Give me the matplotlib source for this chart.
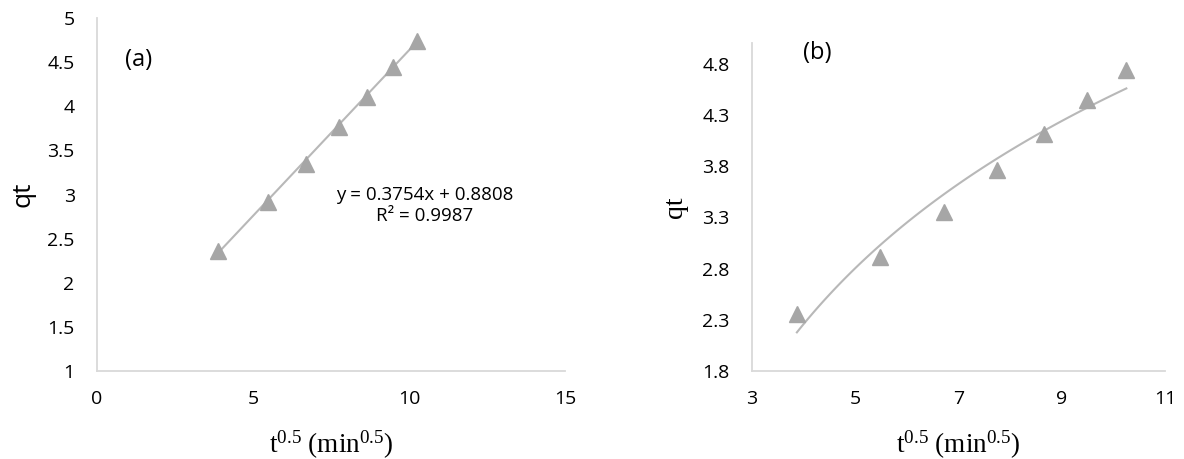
import numpy as np
import matplotlib.pyplot as plt

# contact time t = 15..105 min, plotted against t^0.5
t_sqrt = [3.87, 5.48, 6.71, 7.75, 8.66, 9.49, 10.25]
qt = [2.36, 2.91, 3.35, 3.76, 4.11, 4.44, 4.74]

slope, intercept = 0.3754, 0.8808
r2 = 0.9987

a_xticks = [0, 5, 10, 15]
a_yticks = [1, 1.5, 2, 2.5, 3, 3.5, 4, 4.5, 5]
b_xticks = [3, 5, 7, 9, 11]
b_yticks = [1.8, 2.3, 2.8, 3.3, 3.8, 4.3, 4.8]

grey = '#a6a6a6'
line_grey = '#b8b8b8'
axis_grey = '#d9d9d9'
sans = ['Open Sans', 'DejaVu Sans']
serif = ['Liberation Serif', 'DejaVu Serif']
xlab = r'$\mathregular{t^{0.5}}$ (min$\mathregular{^{0.5}}$)'

fig = plt.figure(figsize=(11.84, 4.59), dpi=100)
ax1 = fig.add_axes([0.0819, 0.1917, 0.3953, 0.769])
ax2 = fig.add_axes([0.6351, 0.1917, 0.3489, 0.7146])


def style(ax, xticks, yticks, xlim, ylim, fmt):
    ax.set_xlim(*xlim)
    ax.set_ylim(*ylim)
    ax.set_xticks(xticks)
    ax.set_yticks(yticks)
    ax.set_xticklabels([str(v) for v in xticks], family=sans, fontsize=14)
    ax.set_yticklabels([fmt(v) for v in yticks], family=sans, fontsize=14)
    for s in ['top', 'right']:
        ax.spines[s].set_visible(False)
    for s in ['left', 'bottom']:
        ax.spines[s].set_color(axis_grey)
        ax.spines[s].set_linewidth(1.3)
    ax.tick_params(axis='y', length=0, pad=16)
    ax.tick_params(axis='x', length=0, pad=14)
    ax.yaxis.label.set_va('center')
    ax.xaxis.label.set_va('center')


x = np.array(t_sqrt)
y = np.array(qt)

# (a) linear trendline
xs = np.linspace(x.min(), x.max(), 50)
ax1.plot(xs, slope * xs + intercept, color=line_grey, lw=1.5, zorder=1)
ax1.plot(x, y, '^', color=grey, ms=12, mec=grey, zorder=2)
style(ax1, a_xticks, a_yticks, (0, 15), (1, 5), lambda v: f'{v:g}')
ax1.set_ylabel('qt', family=sans, fontsize=19)
ax1.yaxis.set_label_coords(-0.158, 0.5)
ax1.set_xlabel(xlab, family=serif, fontsize=19.5)
ax1.xaxis.set_label_coords(0.5, -0.21)
ax1.text(0.9, 4.52, '(a)', family=sans, fontsize=17, va='center')
ax1.text(10.5, 2.875, f'y = {slope}x + {intercept}\nR² = {r2}', family=sans,
         fontsize=13.5, ha='center', va='center', linespacing=1.25)

# (b) logarithmic trendline fitted to the same data
a_log, b_log = np.polyfit(np.log(x), y, 1)
xs = np.linspace(x.min(), x.max(), 100)
ax2.plot(xs, a_log * np.log(xs) + b_log, color=line_grey, lw=1.5, zorder=1)
ax2.plot(x, y, '^', color=grey, ms=12, mec=grey, zorder=2)
style(ax2, b_xticks, b_yticks, (3, 11), (1.8, 5.0), lambda v: f'{v:.1f}')
ax2.set_ylabel('qt', family=serif, fontsize=20)
ax2.yaxis.set_label_coords(-0.184, 0.5)
ax2.set_xlabel(xlab, family=serif, fontsize=19.5)
ax2.xaxis.set_label_coords(0.5, -0.226)
ax2.text(3.99, 4.90, '(b)', family=sans, fontsize=17, va='center')

fig.savefig('out.png', dpi=100)
